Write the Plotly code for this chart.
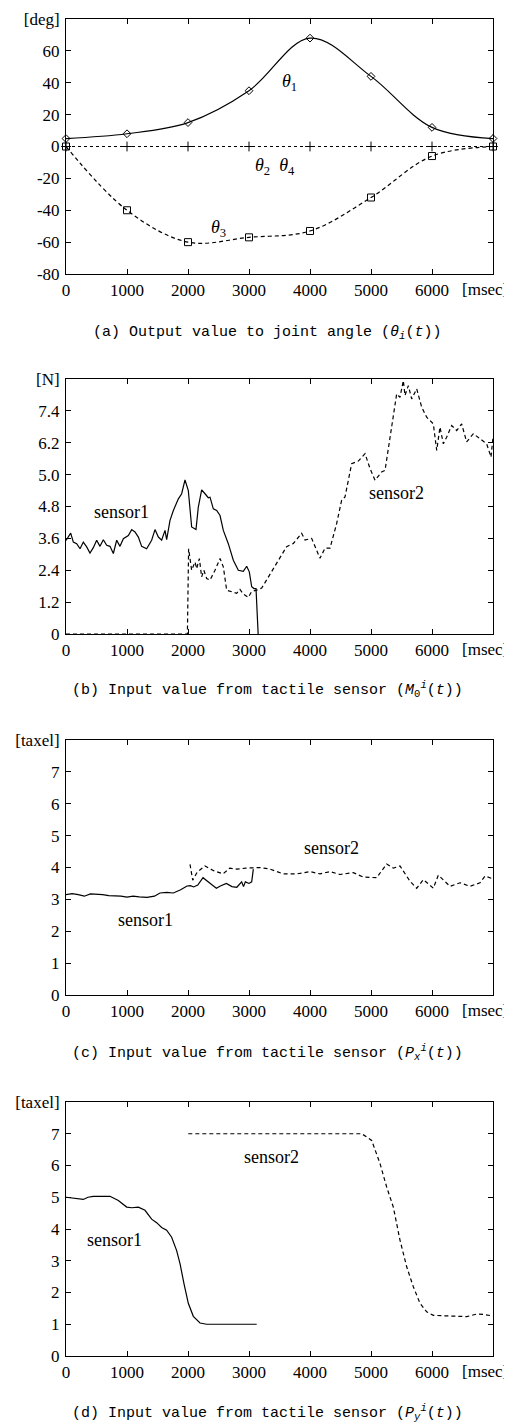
import plotly.graph_objects as go

# ---------------- data ----------------
# (a) joint angles
a_t = [0, 1000, 2000, 3000, 4000, 5000, 6000, 7000]
theta1 = [5, 8, 15, 35, 68, 44, 12, 5]
theta24 = [0, 0, 0, 0, 0, 0, 0, 0]
theta3 = [0, -40, -60, -57, -53, -32, -6, 0]

# (b) M0 tactile input
b_s1_t = [0, 38, 77, 120, 175, 230, 284, 339, 393, 448, 503, 557, 612, 667, 721, 776, 831, 885, 940,
          1022, 1077, 1131, 1186, 1240, 1322, 1404, 1459, 1514, 1568, 1623, 1650, 1705, 1760, 1842,
          1896, 1951, 2005, 2060, 2131, 2169, 2224, 2279, 2333, 2361, 2415, 2470, 2525, 2579, 2661,
          2743, 2825, 2907, 2962, 3005, 3044, 3082, 3115, 3150]
b_s1_v = [3.52, 3.65, 3.8, 3.46, 3.4, 3.21, 3.46, 3.28, 3.05, 3.25, 3.53, 3.3, 3.55, 3.34, 3.3, 3.03,
          3.53, 3.3, 3.59, 3.71, 3.93, 3.84, 3.65, 3.3, 3.21, 3.53, 3.93, 3.65, 3.53, 3.9, 3.55, 4.28,
          4.65, 5.09, 5.28, 5.8, 5.4, 4.03, 3.93, 4.78, 5.43, 5.28, 5.13, 5.15, 4.71, 4.65, 4.46, 3.9,
          3.4, 2.78, 2.4, 2.36, 2.55, 2.34, 1.78, 1.71, 1.71, 0]
b_s2_t = [0, 1990, 2010, 2060, 2115, 2142, 2186, 2224, 2260, 2306, 2361, 2443, 2525, 2579, 2634, 2716,
          2798, 2852, 2907, 2989, 3044, 3126, 3208, 3290, 3454, 3617, 3727, 3863, 3918, 4027, 4164,
          4246, 4328, 4437, 4519, 4574, 4683, 4792, 4902, 4984, 5066, 5175, 5230, 5311, 5421, 5475,
          5530, 5557, 5612, 5667, 5749, 5831, 5913, 6022, 6077, 6131, 6186, 6240, 6322, 6404, 6486,
          6568, 6678, 6787, 6896, 6967, 7000]
b_s2_v = [0, 0, 3.21, 2.4, 2.71, 2.46, 2.84, 2.15, 2.4, 2.09, 2.03, 2.4, 2.84, 2.53, 1.65, 1.59, 1.53,
          1.68, 1.5, 1.38, 1.6, 1.65, 1.73, 2.04, 2.66, 3.29, 3.41, 3.79, 3.54, 3.6, 2.85, 3.23, 3.23,
          4.16, 5.04, 5.16, 6.41, 6.51, 6.79, 6.23, 5.79, 6.1, 6.16, 7.41, 9.04, 8.91, 9.54, 8.98, 9.35,
          8.85, 9.23, 8.54, 8.16, 7.91, 6.91, 7.79, 7.16, 7.41, 7.85, 7.66, 7.91, 7.23, 7.54, 7.35, 7.16,
          6.66, 7.41]
b_tickvals = [0, 1.2, 2.4, 3.6, 4.8, 6.0, 7.2, 8.4, 9.6]
b_ticktext = ["0", "1.2", "2.4", "3.6", "4.8", "5.0", "6.2", "7.4", "[N]"]

# (c) Px tactile input
c_s1_t = [0, 100, 200, 300, 400, 500, 600, 700, 800, 900, 1000, 1100, 1200, 1328, 1450, 1541, 1650,
          1760, 1880, 1984, 2040, 2093, 2160, 2246, 2350, 2465, 2530, 2629, 2720, 2800, 2880, 2910,
          2940, 3000, 3044, 3071]
c_s1_v = [3.15, 3.18, 3.15, 3.1, 3.17, 3.17, 3.15, 3.12, 3.12, 3.1, 3.07, 3.1, 3.08, 3.06, 3.1, 3.2,
          3.22, 3.2, 3.3, 3.42, 3.43, 3.39, 3.45, 3.68, 3.52, 3.35, 3.42, 3.5, 3.4, 3.38, 3.55, 3.4,
          3.55, 3.5, 3.55, 3.95]
c_s2_t = [2033, 2077, 2150, 2279, 2420, 2574, 2683, 2800, 2950, 3071, 3180, 3344, 3563, 3781, 4000,
          4164, 4328, 4492, 4710, 4874, 5093, 5257, 5366, 5475, 5639, 5749, 5858, 6022, 6104, 6295,
          6459, 6623, 6787, 6869, 6978, 7000]
c_s2_v = [4.1, 3.6, 3.85, 4.05, 3.9, 3.8, 3.98, 3.95, 3.98, 3.98, 4.0, 3.95, 3.8, 3.8, 3.87, 3.8, 3.87,
          3.78, 3.84, 3.7, 3.68, 4.11, 3.98, 4.05, 3.57, 3.35, 3.62, 3.35, 3.76, 3.41, 3.52, 3.41, 3.52,
          3.73, 3.66, 3.6]

# (d) Py tactile input
d_s1_t = [0, 120, 200, 284, 360, 448, 612, 721, 858, 995, 1077, 1186, 1295, 1404, 1486, 1568, 1650,
          1732, 1814, 1869, 1934, 2005, 2087, 2197, 2306, 3126]
d_s1_v = [5.0, 4.98, 4.95, 4.93, 5.0, 5.03, 5.03, 5.03, 4.9, 4.69, 4.67, 4.69, 4.59, 4.31, 4.2, 4.05,
          3.96, 3.74, 3.32, 2.91, 2.28, 1.66, 1.25, 1.04, 1.0, 1.0]
d_s2_t = [2005, 4847, 4929, 5011, 5148, 5257, 5366, 5475, 5585, 5694, 5803, 5913, 6022, 6295, 6568,
          6732, 6842, 7000]
d_s2_v = [7.0, 7.0, 6.9, 6.79, 6.06, 5.32, 4.69, 3.65, 2.81, 2.18, 1.66, 1.39, 1.28, 1.26, 1.24, 1.32,
          1.31, 1.26]

x_tickvals = [0, 1000, 2000, 3000, 4000, 5000, 6000]
x_ticktext = ["0", "1000", "2000", "3000", "4000", "5000", "6000"]

captions = [
    "(a) Output value to joint angle (<i>θ<sub>i</sub></i>(<i>t</i>))",
    "(b) Input value from tactile sensor (<i>M</i><sub>0</sub><sup><i>i</i></sup>(<i>t</i>))",
    "(c) Input value from tactile sensor (<i>P</i><sub><i>x</i></sub><sup><i>i</i></sup>(<i>t</i>))",
    "(d) Input value from tactile sensor (<i>P</i><sub><i>y</i></sub><sup><i>i</i></sup>(<i>t</i>))",
]

# ---------------- layout geometry (page pixels; the page body adds an 8px offset) ----------------
OFF = 8
W, H = 512 - OFF, 1426 - OFF
X0, X1 = 66 - OFF, 493 - OFF
panels_px = [(19, 274), (379, 634), (740, 995), (1102, 1356)]
caption_px = [333, 690, 1052, 1412]
CAP_X = 267

SERIF = "Liberation Serif, Times New Roman, serif"
CAPFONT = "Liberation Mono, monospace"
BLACK = "#000000"

def yfrac(py):
    return 1 - (py - OFF) / H

def xfrac(px):
    return (px - OFF) / W

fig = go.Figure()

solid = dict(color=BLACK, width=1.2)
dashed = dict(color=BLACK, width=1.2, dash="4px,3px")

# (a)
fig.add_trace(go.Scatter(x=a_t, y=theta1, mode="lines+markers", line=dict(color=BLACK, width=1.2, shape="spline"),
                         marker=dict(symbol="diamond-open", size=6, color=BLACK, line=dict(width=1)),
                         xaxis="x", yaxis="y", showlegend=False, cliponaxis=False))
fig.add_trace(go.Scatter(x=a_t, y=theta24, mode="lines+markers", line=dict(color=BLACK, width=1.2, dash="dot"),
                         marker=dict(symbol="cross-thin", size=7, color=BLACK, line=dict(width=1, color=BLACK)),
                         xaxis="x", yaxis="y", showlegend=False, cliponaxis=False))
fig.add_trace(go.Scatter(x=a_t, y=theta3, mode="lines+markers",
                         line=dict(color=BLACK, width=1.2, dash="4px,3px", shape="spline"),
                         marker=dict(symbol="square-open", size=7, color=BLACK, line=dict(width=1)),
                         xaxis="x", yaxis="y", showlegend=False, cliponaxis=False))
# (b)
fig.add_trace(go.Scatter(x=b_s1_t, y=b_s1_v, mode="lines", line=solid, xaxis="x2", yaxis="y2", showlegend=False))
fig.add_trace(go.Scatter(x=b_s2_t, y=b_s2_v, mode="lines", line=dashed, xaxis="x2", yaxis="y2", showlegend=False))
# (c)
fig.add_trace(go.Scatter(x=c_s1_t, y=c_s1_v, mode="lines", line=solid, xaxis="x3", yaxis="y3", showlegend=False))
fig.add_trace(go.Scatter(x=c_s2_t, y=c_s2_v, mode="lines", line=dashed, xaxis="x3", yaxis="y3", showlegend=False))
# (d)
fig.add_trace(go.Scatter(x=d_s1_t, y=d_s1_v, mode="lines", line=solid, xaxis="x4", yaxis="y4", showlegend=False))
fig.add_trace(go.Scatter(x=d_s2_t, y=d_s2_v, mode="lines", line=dashed, xaxis="x4", yaxis="y4", showlegend=False))

y_specs = [
    dict(range=[-80, 80], tickvals=[-80, -60, -40, -20, 0, 20, 40, 60, 80],
         ticktext=["-80", "-60", "-40", "-20", "0", "20", "40", "60", "[deg]"]),
    dict(range=[0, 9.6], tickvals=b_tickvals, ticktext=b_ticktext),
    dict(range=[0, 8], tickvals=list(range(9)), ticktext=[str(i) for i in range(8)] + ["[taxel]"]),
    dict(range=[0, 8], tickvals=list(range(9)), ticktext=[str(i) for i in range(8)] + ["[taxel]"]),
]

axis_common = dict(showline=True, linecolor=BLACK, linewidth=1, mirror="ticks", ticks="inside",
                   ticklen=5, tickwidth=1, tickcolor=BLACK, showgrid=False, zeroline=False,
                   automargin=False,
                   tickfont=dict(family=SERIF, size=17, color=BLACK), fixedrange=True)

layout = dict(width=W, height=H, margin=dict(l=0, r=0, t=0, b=0, autoexpand=False),
              paper_bgcolor="white", plot_bgcolor="white", showlegend=False)

annotations = []
for i, ((top, bot), spec) in enumerate(zip(panels_px, y_specs)):
    n = "" if i == 0 else str(i + 1)
    layout["xaxis" + n] = dict(axis_common, domain=[(X0) / W, (X1) / W], range=[0, 7000],
                               tickvals=x_tickvals, ticktext=x_ticktext, ticklabelstandoff=1,
                               anchor="y" + n)
    layout["yaxis" + n] = dict(axis_common, domain=[yfrac(bot), yfrac(top)], anchor="x" + n,
                               ticklabelstandoff=2, **spec)
    annotations.append(dict(text="[msec]", xref="paper", yref="paper", x=xfrac(510), y=yfrac(bot + 15),
                            xanchor="right", yanchor="middle", showarrow=False,
                            font=dict(family=SERIF, size=17, color=BLACK)))
    annotations.append(dict(text=captions[i], xref="paper", yref="paper", x=xfrac(CAP_X), y=yfrac(caption_px[i]),
                            xanchor="center", yanchor="middle", showarrow=False,
                            font=dict(family=CAPFONT, size=15, color=BLACK)))

lab_font = dict(family=SERIF, size=18, color=BLACK)
series_labels = [
    ("x", "y", 3656, 40, "<i>θ</i><sub>1</sub>"),
    ("x", "y", 3426, -12.5, "<i>θ</i><sub>2</sub>  <i>θ</i><sub>4</sub>"),
    ("x", "y", 2508, -51.5, "<i>θ</i><sub>3</sub>"),
    ("x2", "y2", 902, 4.58, "sensor1"),
    ("x2", "y2", 5426, 5.29, "sensor2"),
    ("x3", "y3", 1295, 2.35, "sensor1"),
    ("x3", "y3", 4355, 4.6, "sensor2"),
    ("x4", "y4", 803, 3.65, "sensor1"),
    ("x4", "y4", 3370, 6.27, "sensor2"),
]
for xr, yr, xv, yv, txt in series_labels:
    annotations.append(dict(text=txt, xref=xr, yref=yr, x=xv, y=yv, showarrow=False,
                            xanchor="center", yanchor="middle", font=lab_font))

layout["annotations"] = annotations
fig.update_layout(**layout)

fig.write_html("out.html")
